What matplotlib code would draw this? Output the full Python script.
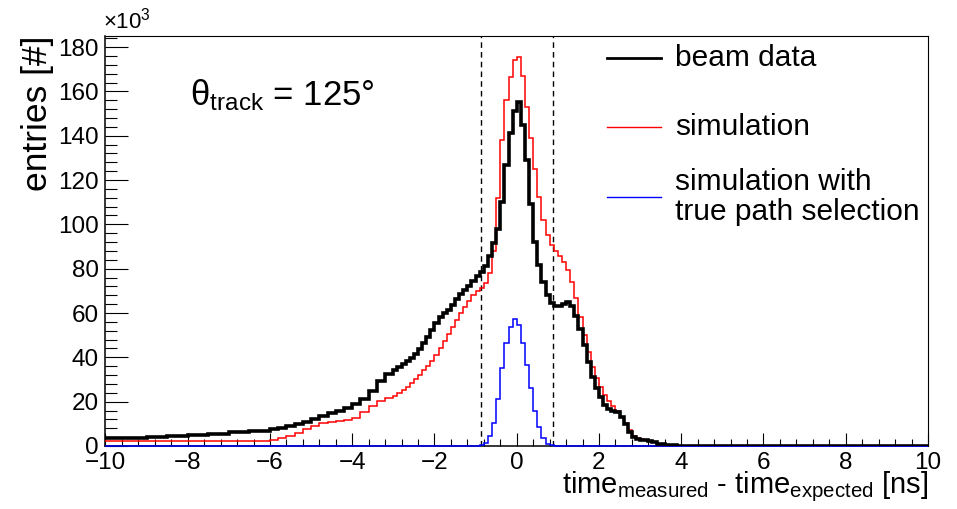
import numpy as np
import matplotlib
matplotlib.use("Agg")
import matplotlib.pyplot as plt

plt.rcParams['font.family'] = ['Liberation Sans', 'DejaVu Sans']
plt.rcParams['mathtext.fontset'] = 'custom'
plt.rcParams['mathtext.rm'] = 'Liberation Sans'
plt.rcParams['mathtext.it'] = 'Liberation Sans:italic'
plt.rcParams['mathtext.bf'] = 'Liberation Sans:bold'

# bin edges [ns]: coarse tails, finer around the peak
edges = np.round(np.concatenate([
    np.linspace(-10, -6.5, 8),
    np.linspace(-6, -3.2, 15),
    np.linspace(-3, 3.9, 70),
    np.linspace(4, 10, 13),
]), 2)

# entries per bin, in units of 10^3
beam_data = [
    3.5, 3.8, 4.1, 4.5, 5.0, 5.5, 6.1, 6.9,
    7.7, 8.2, 8.8, 9.8, 11.0, 12.3, 13.6, 14.9, 16.0, 17.3, 18.8, 21.2, 25.0, 29.5, 32.5,
    34.5, 35.8, 37.2, 38.3, 39.6, 41.5, 43.6, 46.4, 49.3, 52.5,
    55.5, 58.2, 59.8, 61.2, 63.5, 66.2, 68.4, 70.4, 72.4, 74.6,
    76.7, 78.6, 81.0, 85.5, 91.5, 98.0, 110.0, 127.0, 141.0, 151.0,
    155.0, 145.0, 129.0, 109.0, 92.0, 81.5, 74.0, 68.0, 64.6, 63.2,
    63.2, 64.2, 64.8, 63.2, 58.8, 52.8, 45.6, 38.0, 31.3, 26.0,
    21.9, 18.5, 16.6, 16.0, 15.4, 13.3, 9.8, 6.5, 4.2, 3.2,
    2.9, 2.5, 2.1, 1.6, 1.0, 0.7, 0.45, 0.3, 0.25, 0.2,
    0.15, 0.1, 0.08, 0.05, 0.04, 0.03, 0.02, 0.02, 0.01, 0.01, 0.01, 0.01,
]

simulation = [
    2.3, 2.3, 2.2, 2.2, 2.2, 2.2, 2.2, 2.3,
    2.6, 3.4, 4.6, 6.0, 7.6, 9.0, 10.2, 11.0, 11.2, 11.5, 12.8, 15.5, 18.2, 20.2, 21.6,
    22.5, 23.8, 25.3, 26.8, 28.4, 30.3, 32.2, 34.1, 36.2, 38.4,
    41.0, 44.0, 47.3, 50.6, 53.8, 56.9, 59.9, 62.9, 65.6, 68.0,
    70.0, 71.5, 73.5, 78.0, 88.0, 112.0, 138.0, 156.0, 166.5, 174.0,
    175.5, 167.0, 153.0, 139.0, 125.0, 112.5, 102.0, 95.0, 90.7, 88.1,
    85.8, 83.2, 79.5, 73.8, 66.6, 58.3, 50.0, 42.5, 35.8, 30.5,
    26.4, 23.0, 20.4, 18.1, 15.8, 13.3, 10.2, 7.0, 4.7, 3.6,
    3.0, 2.7, 2.3, 1.7, 1.1, 0.6, 0.35, 0.25, 0.2, 0.15,
    0.1, 0.05, 0.03, 0.02, 0.01, 0.01, 0, 0, 0, 0, 0, 0,
]

true_path = [0.0] * 43 + [
    0.1, 0.3, 1.5, 4.5, 10.5, 21.0, 35.0, 46.5, 53.8, 57.3,
    54.5, 46.5, 36.5, 26.0, 16.0, 8.5, 3.5, 1.1, 0.3, 0.1,
] + [0.0] * 42

cut_window = [-0.88, 0.88]

fig = plt.figure(figsize=(9.57, 5.09), dpi=100)
ax = fig.add_axes([0.1102, 0.1238, 0.8595, 0.8055])

ax.stairs(simulation, edges, baseline=None, color='#ff0000', lw=1.1, zorder=3)
ax.stairs(true_path, edges, baseline=None, color='#0000ff', lw=1.1, zorder=4, clip_on=False)
ax.stairs(beam_data, edges, baseline=None, color='black', lw=2.6, zorder=5)

for c in cut_window:
    ax.axvline(c, color='black', lw=1.0, ls=(0, (4, 3)), zorder=2)

ax.set_xlim(-10, 10)
ax.set_ylim(0, 185)
ax.set_xticks(np.arange(-10, 10.1, 2))
ax.set_xticks(np.arange(-10, 10.1, 0.4), minor=True)
ax.set_yticks(np.arange(0, 181, 20))
ax.set_yticks(np.arange(0, 185, 4), minor=True)

ax.tick_params(which='both', direction='in', top=False, right=False,
               width=0.8, labelsize=17.5, colors='black')
ax.tick_params(axis='y', which='major', length=16.5, pad=5)
ax.tick_params(axis='y', which='minor', length=8.5)
ax.tick_params(axis='x', which='major', length=9.5, pad=4)
ax.tick_params(axis='x', which='minor', length=5)
for s in ax.spines.values():
    s.set_linewidth(1.1)
ax.spines['top'].set_linewidth(0.8)
ax.spines['right'].set_linewidth(0.8)

ax.set_ylabel('entries [#]', fontsize=25.5, loc='top')
ax.yaxis.set_label_coords(-0.062, 1.0)
ax.set_xlabel(r'time$_{\mathregular{measured}}$ - time$_{\mathregular{expected}}$ [ns]',
              fontsize=21, loc='right')
ax.xaxis.set_label_coords(1.0, -0.056)

ax.text(-0.003, 1.005, r'$\mathregular{\times10^{3}}$', transform=ax.transAxes,
        fontsize=16, ha='left', va='bottom')
ax.text(0.103, 0.832, r'θ$_{\mathregular{track}}$ = 125°', transform=ax.transAxes,
        fontsize=25, ha='left', va='baseline')

# legend, drawn by hand to keep the original row spacing
legend_rows = [
    ('beam data', 'black', 2.0, 0.946),
    ('simulation', '#ff0000', 1.0, 0.778),
    ('simulation with\ntrue path selection', '#0000ff', 1.0, 0.607),
]
for label, color, lw, ypos in legend_rows:
    ax.plot([0.6097, 0.6754], [ypos, ypos], color=color, lw=lw,
            transform=ax.transAxes, clip_on=False)
    ax.text(0.6924, ypos, label, transform=ax.transAxes, fontsize=21.5,
            ha='left', va='center', linespacing=1.1)

fig.savefig('out.png', dpi=100)
